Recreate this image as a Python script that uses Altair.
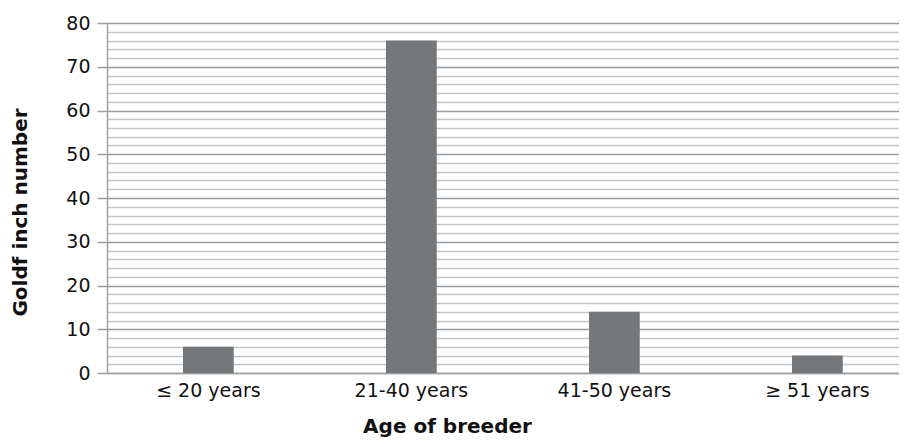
import altair as alt
import pandas as pd

categories = ["≤  20 years", "21-40 years", "41-50 years", "≥  51 years"]
values = [6, 76, 14, 4]
y_ticks = list(range(0, 81, 2))

df = pd.DataFrame({"age": categories, "n": values})

FONT = "DejaVu Sans"

chart = alt.Chart(df).mark_bar(color="#75787b").encode(
    x=alt.X("age:N", sort=categories,
            scale=alt.Scale(paddingInner=0.75, paddingOuter=0.3257, align=0.5747),
            axis=alt.Axis(title="Age of breeder", labelAngle=0, ticks=False,
                          labelFontSize=19, labelFont=FONT, labelColor="#111",
                          labelPadding=8, domainColor="#a0a0a0", domainWidth=1.5,
                          titleFont=FONT, titleFontSize=20, titleFontWeight="bold",
                          titleColor="#111", titleX=340, titleY=59,
                          titleBaseline="alphabetic")),
    y=alt.Y("n:Q", scale=alt.Scale(domain=[0, 80], nice=False),
            axis=alt.Axis(title="Goldf inch number", values=y_ticks,
                          labelExpr="datum.value % 10 === 0 ? datum.label : ''",
                          labelFontSize=19, labelFont=FONT, labelColor="#111",
                          labelPadding=7, tickSize=10,
                          tickColor="#999da1", tickWidth=1.5,
                          tickOpacity={"condition": {"test": "datum.value % 10 === 0", "value": 1}, "value": 0},
                          gridColor={"condition": {"test": "datum.value % 10 === 0", "value": "#999da1"}, "value": "#c4c5c7"},
                          gridWidth=1.5,
                          domainColor="#a0a0a0", domainWidth=1.5,
                          titleFont=FONT, titleFontSize=20, titleFontWeight="bold",
                          titleColor="#111", titleX=-77, titleY=189,
                          titleAlign="center", titleAngle=-90)),
).properties(
    width=792, height=350,
    autosize=alt.AutoSizeParams(type="none"),
    padding={"left": 99, "top": 15, "right": 0, "bottom": 64},
).configure_view(stroke=None)

chart.save("out.html", embed_options={"renderer": "svg", "actions": False})
